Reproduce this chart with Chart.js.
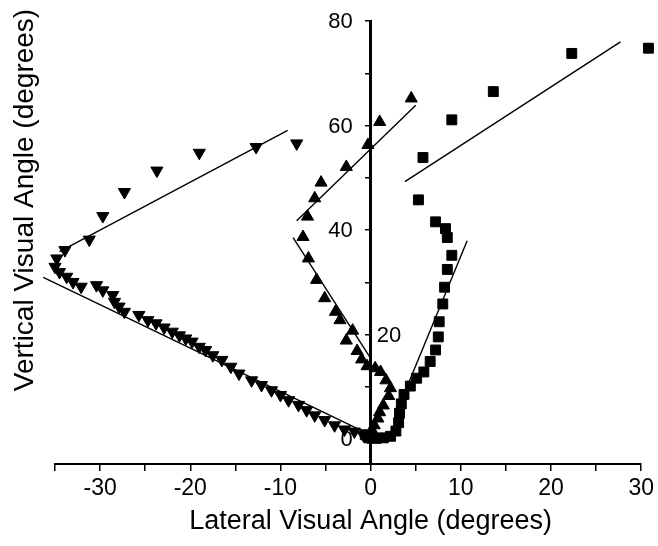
<!DOCTYPE html>
<html>
<head>
<meta charset="utf-8">
<script src="https://cdn.jsdelivr.net/npm/chart.js@4/dist/chart.umd.min.js"></script>
<style>
  html, body { margin: 0; padding: 0; background: #fff; }
</style>
</head>
<body>
<canvas id="chart" width="658" height="546"></canvas>
<script>
// ---------- DATA ----------
// downward triangles
const downX = [-8.2, -12.7, -19.0, -23.7, -27.3, -29.7, -31.2, -33.9, -34.8, -35.0, -34.5, -33.7, -33.0, -32.1,
  -30.4, -29.7, -28.6, -28.4, -27.9, -27.3, -25.7, -24.7, -23.8, -22.9, -22.0, -21.2, -20.5, -19.8, -19.0, -18.3,
  -17.5, -16.5, -15.5, -14.6, -13.2, -12.1, -11.0, -10.0, -9.1, -8.0, -7.1, -6.2, -5.1, -4.0, -2.9, -1.8, -0.8, -0.3];
const downY = [56.6, 55.9, 54.8, 51.4, 47.3, 42.7, 38.2, 36.2, 34.6, 33.0, 32.0, 31.1, 30.1, 29.2,
  29.5, 28.5, 27.6, 26.3, 25.4, 24.4, 23.8, 22.8, 22.2, 21.4, 20.6, 19.9, 19.3, 18.7, 17.7, 17.1,
  16.1, 15.2, 13.9, 12.6, 11.3, 10.4, 9.4, 8.5, 7.5, 6.6, 5.6, 4.6, 3.7, 2.7, 1.9, 1.5, 0.8, 0.5];

// upward triangles
const upX = [4.5, 1.0, -0.3, -2.7, -5.5, -6.2, -7.0, -7.5, -6.9, -6.0, -5.1, -3.9, -3.4, -2.0, -2.7,
  -1.5, -1.0, -0.4, 0.5, 1.1, 1.7, 2.2, 2.0, 1.4, 1.0, 0.8, 0.4, 0.2, 0.4];
const upY = [65.2, 60.7, 56.3, 52.1, 49.1, 46.1, 42.6, 38.7, 34.6, 30.5, 27.0, 24.4, 22.8, 20.8, 18.9,
  16.9, 15.3, 14.0, 13.6, 12.9, 11.3, 9.8, 8.3, 6.5, 5.2, 4.0, 2.7, 1.6, 0.8];

// squares
const sqX = [30.8, 22.3, 13.6, 9.0, 5.8, 5.3, 7.2, 8.3, 8.5, 9.0, 8.5, 8.2, 8.0, 7.6, 7.5, 7.2, 6.6, 5.9,
  5.1, 4.4, 3.7, 3.4, 3.2, 3.1, 2.8, 2.2, 1.4, 0.6, -0.2, -0.6];
const sqY = [74.8, 73.8, 66.5, 61.1, 53.9, 45.8, 41.6, 40.3, 38.6, 35.2, 32.5, 29.1, 25.9, 22.5, 19.6, 17.1, 14.9, 12.9,
  11.7, 10.2, 8.6, 6.8, 5.0, 3.2, 1.6, 0.6, 0.3, 0.2, 0.3, 0.9];

// fitted line segments [x1, y1, x2, y2]
const fitLines = [
  [-34.5, 35.9, -9.2, 59.1],
  [-36.3, 31.0, -0.3, 1.1],
  [-8.2, 41.8, 5.0, 63.9],
  [-8.6, 38.6, -0.1, 15.8],
  [3.8, 49.3, 27.7, 76.0],
  [3.9, 9.5, 10.7, 38.0]
];

const xTickLabels = [-30, -20, -10, 0, 10, 20, 30];
const yLeftLabels = [0, 40, 60, 80];
const yRightLabels = [20];   // printed on the right side of the axis

const xTitle = "Lateral Visual Angle (degrees)";
const yTitle = "Vertical Visual Angle (degrees)";

const FONT = "'Liberation Sans', Arial, Helvetica, sans-serif";

const pts = (xs, ys) => xs.map((x, i) => ({ x: x, y: ys[i] }));

function markers(label, xs, ys, style, rot, radius) {
  return {
    label: label,
    data: pts(xs, ys),
    showLine: false,
    pointStyle: style,
    rotation: rot,
    pointRadius: radius,
    pointHoverRadius: radius,
    backgroundColor: "#000",
    borderColor: "#000",
    borderWidth: 1,
    clip: false
  };
}

const datasets = [
  markers("down", downX, downY, "triangle", 180, 7),
  markers("up", upX, upY, "triangle", 0, 7),
  markers("square", sqX, sqY, "rect", 0, 7)
];

fitLines.forEach((l, i) => {
  datasets.push({
    label: "fit" + i,
    data: [{ x: l[0], y: l[1] }, { x: l[2], y: l[3] }],
    showLine: true,
    pointRadius: 0,
    borderColor: "#000",
    borderWidth: 1.4,
    fill: false,
    clip: false
  });
});

// y tick labels (drawn under the markers), titles
const textPlugin = {
  id: "extraText",
  beforeDatasetsDraw(chart) {
    const ctx = chart.ctx;
    const xs = chart.scales.x, ys = chart.scales.y;
    const ax = xs.getPixelForValue(0);
    ctx.save();
    ctx.fillStyle = "#000";
    ctx.font = "22px " + FONT;
    ctx.textBaseline = "middle";
    ctx.textAlign = "right";
    yLeftLabels.forEach(v => ctx.fillText(String(v), ax - 18, ys.getPixelForValue(v) + 1));
    ctx.textAlign = "left";
    yRightLabels.forEach(v => ctx.fillText(String(v), ax + 6, ys.getPixelForValue(v) + 1));
    ctx.restore();
  },
  afterDraw(chart) {
    const ctx = chart.ctx;
    const xs = chart.scales.x;
    ctx.save();
    ctx.fillStyle = "#000";
    ctx.font = "27px " + FONT;
    ctx.textAlign = "center";
    ctx.textBaseline = "middle";
    ctx.fillText(xTitle, xs.getPixelForValue(0), 522);
    ctx.font = "28px " + FONT;
    ctx.translate(25, 200);
    ctx.rotate(-Math.PI / 2);
    ctx.fillText(yTitle, 0, 0);
    ctx.restore();
  }
};

new Chart(document.getElementById("chart"), {
  type: "scatter",
  data: { datasets: datasets },
  plugins: [textPlugin],
  options: {
    responsive: false,
    animation: false,
    devicePixelRatio: 1,
    layout: { padding: { left: 55, right: 14, top: 21, bottom: 0 } },
    plugins: { legend: { display: false }, tooltip: { enabled: false } },
    scales: {
      x: {
        type: "linear",
        min: -35,
        max: 30,
        position: "bottom",
        border: { color: "#000", width: 2 },
        grid: { drawOnChartArea: false, drawTicks: true, tickLength: 7, color: "#000", lineWidth: 1.5 },
        ticks: {
          stepSize: 5,
          autoSkip: false,
          maxRotation: 0,
          padding: 4,
          color: "#000",
          font: { family: FONT, size: 23 },
          callback: v => (xTickLabels.includes(v) ? String(v) : "")
        },
        afterFit: s => { s.height = 82; }
      },
      y: {
        type: "linear",
        min: -4.7,
        max: 80,
        position: { x: 0 },
        border: { color: "#000", width: 3 },
        grid: { drawOnChartArea: false, drawTicks: true, tickLength: 4, color: "#000", lineWidth: 1.5 },
        ticks: {
          stepSize: 10,
          includeBounds: false,
          autoSkip: false,
          color: "#000",
          callback: () => ""
        }
      }
    }
  }
});
</script>
</body>
</html>
